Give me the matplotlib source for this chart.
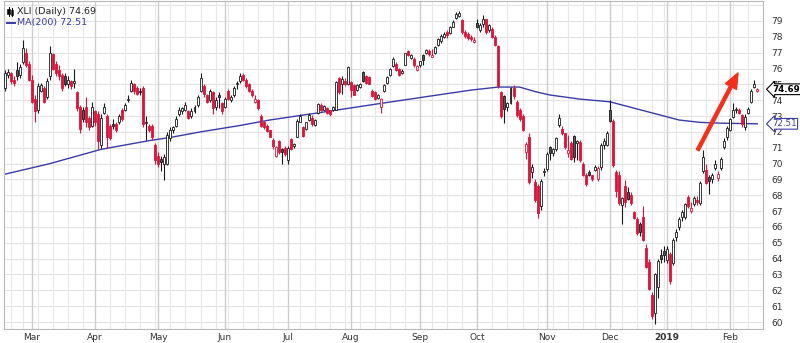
import numpy as np
import pandas as pd
import matplotlib
matplotlib.use("Agg")
import matplotlib.pyplot as plt
import matplotlib.transforms as mtransforms
from matplotlib.patches import Rectangle
from matplotlib.lines import Line2D

# ---- trading calendar -------------------------------------------------------
holidays = ["2018-02-19", "2018-03-30", "2018-05-28", "2018-07-04", "2018-09-03",
            "2018-11-22", "2018-12-05", "2018-12-25", "2019-01-01", "2019-01-21"]
dates = pd.bdate_range("2018-02-15", "2019-02-14", freq="C", holidays=holidays)

# ---- XLI daily prices -------------------------------------------------------
opens = [
    74.8, 75.6, 75.7, 75.3, 75.9, 75.6, 76.4, 77.0, 76.3, 75.3,
    74.1, 73.4, 74.6, 74.8, 74.2, 75.5, 76.9, 76.3, 75.9, 75.6,
    75.5, 75.0, 75.2, 75.1, 74.5, 73.6, 73.4, 73.6, 72.9, 72.4,
    73.3, 73.1, 71.2, 73.2, 73.0, 72.4, 72.5, 72.5, 72.6, 73.4,
    73.4, 74.0, 74.6, 75.0, 74.8, 74.6, 74.8, 72.55, 72.4, 72.4,
    71.2, 70.5, 70.3, 70.0, 70.0, 71.6, 72.1, 72.4, 73.1, 73.3,
    73.4, 73.3, 73.0, 73.3, 73.7, 74.6, 74.9, 74.3, 74.0, 74.5,
    73.6, 74.3, 73.8, 73.6, 74.6, 74.0, 74.3, 75.0, 75.2, 75.6,
    75.3, 75.0, 74.6, 73.9, 74.0, 73.0, 72.6, 72.4, 72.1, 71.5,
    70.5, 71.45, 70.9, 71.0, 70.2, 71.55, 71.1, 71.7, 72.65, 72.3,
    72.2, 72.75, 72.9, 72.45, 73.2, 73.7, 73.4, 73.5, 73.35, 73.4,
    73.4, 75.38, 75.0, 75.2, 75.0, 75.15, 74.95, 74.65, 74.85, 75.8,
    75.55, 75.45, 74.6, 74.5, 74.15, 73.6, 74.55, 75.1, 75.6, 76.15,
    76.3, 76.0, 75.7, 76.25, 77.1, 76.65, 76.6, 75.9, 76.2, 76.85,
    77.0, 77.1, 76.75, 76.95, 77.5, 77.75, 78.0, 78.3, 78.25, 78.65,
    79.2, 79.3, 79.05, 78.3, 78.2, 78.0, 77.65, 78.9, 78.4, 78.8,
    79.1, 78.4, 78.5, 78.0, 77.4, 74.5, 74.25, 73.55, 73.85, 74.8,
    73.9, 73.4, 73.0, 70.75, 71.7, 69.45, 68.85, 68.6, 67.3, 69.45,
    69.65, 71.05, 70.65, 70.9, 72.45, 72.2, 71.9, 70.65, 71.3, 71.75,
    71.3, 71.35, 70.0, 69.3, 69.45, 69.25, 69.6, 69.0, 69.8, 71.2,
    71.2, 73.4, 72.7, 69.45, 69.3, 67.4, 68.6, 68.2, 68.0, 66.95,
    66.5, 66.2, 66.6, 64.7, 63.8, 61.7, 60.6, 62.2, 64.2, 64.5,
    63.9, 64.3, 63.7, 65.35, 66.0, 66.6, 66.65, 67.9, 67.0, 67.45,
    67.7, 67.5, 69.5, 69.6, 69.15, 69.0, 69.7, 69.1, 69.7, 71.05,
    71.7, 72.15, 72.95, 73.4, 73.4, 73.05, 72.3, 73.2, 73.9, 74.85,
    74.6,
]
highs = [
    75.9, 76.0, 75.8, 75.5, 76.4, 76.3, 77.8, 77.3, 76.5, 75.6,
    74.3, 75.1, 75.1, 74.9, 75.4, 77.4, 77.0, 76.5, 76.2, 75.7,
    75.7, 75.5, 75.3, 76.0, 74.6, 73.7, 73.6, 74.2, 73.0, 73.9,
    73.4, 73.3, 73.1, 73.8, 73.1, 72.5, 72.8, 72.6, 73.1, 73.5,
    73.8, 74.3, 75.3, 75.1, 74.9, 74.8, 74.9, 73.0, 72.5, 72.5,
    71.3, 70.7, 70.5, 70.6, 72.0, 72.3, 72.4, 73.0, 73.6, 73.6,
    73.9, 73.4, 73.5, 73.7, 74.3, 75.7, 75.0, 74.4, 74.7, 74.6,
    74.2, 74.5, 73.9, 74.2, 74.7, 74.3, 74.9, 75.2, 75.7, 75.7,
    75.4, 75.1, 74.7, 74.3, 74.1, 73.1, 72.7, 72.5, 72.15, 71.6,
    71.1, 71.5, 71.0, 71.1, 71.1, 71.6, 71.3, 72.8, 73.1, 72.4,
    72.65, 73.2, 73.06, 72.8, 73.85, 73.8, 73.7, 73.55, 73.4, 73.65,
    75.2, 75.45, 75.5, 75.4, 76.15, 75.2, 75.0, 75.0, 75.1, 75.85,
    75.6, 75.5, 74.7, 74.55, 74.4, 74.15, 75.0, 75.5, 76.05, 76.7,
    76.4, 76.05, 75.95, 77.0, 77.15, 76.9, 76.7, 76.25, 76.5, 76.9,
    77.25, 77.2, 77.2, 77.4, 77.95, 78.15, 78.3, 78.4, 78.7, 79.06,
    79.55, 79.6, 79.1, 78.4, 78.3, 78.1, 78.0, 79.1, 78.85, 79.4,
    79.15, 78.8, 78.6, 78.1, 77.5, 74.6, 74.3, 73.9, 74.85, 74.95,
    74.0, 73.5, 73.1, 71.35, 71.9, 70.0, 69.0, 68.7, 69.0, 69.7,
    70.7, 71.1, 71.0, 71.7, 73.1, 72.4, 71.95, 71.8, 71.4, 71.8,
    71.5, 71.5, 70.1, 69.4, 69.6, 69.3, 69.9, 69.85, 71.3, 71.6,
    72.05, 74.0, 72.8, 69.6, 69.5, 67.9, 68.96, 68.5, 68.2, 67.0,
    66.6, 66.3, 67.3, 64.9, 64.0, 61.9, 63.1, 64.0, 64.6, 64.8,
    64.8, 64.4, 65.3, 65.9, 66.6, 67.1, 67.5, 68.0, 67.6, 67.95,
    67.95, 68.9, 70.85, 70.0, 69.3, 69.4, 70.2, 69.5, 70.4, 71.6,
    72.4, 72.9, 73.8, 73.55, 73.5, 73.1, 73.1, 73.6, 74.7, 75.27,
    74.8,
]
lows = [
    74.6, 75.4, 75.0, 74.9, 75.3, 75.4, 76.3, 76.1, 75.2, 73.8,
    72.6, 73.2, 74.5, 73.8, 74.1, 75.3, 75.9, 75.5, 75.3, 74.6,
    74.9, 74.8, 74.7, 74.8, 73.3, 71.9, 72.6, 72.3, 72.1, 72.3,
    72.4, 70.9, 71.0, 73.1, 71.0, 71.5, 72.2, 72.0, 72.5, 72.7,
    73.3, 73.9, 74.5, 74.4, 74.3, 74.3, 72.3, 71.5, 72.0, 71.5,
    70.0, 69.8, 69.5, 68.95, 69.9, 71.4, 71.9, 72.3, 73.0, 73.1,
    73.3, 72.8, 72.9, 73.2, 73.6, 74.5, 74.2, 73.8, 73.9, 73.1,
    73.4, 73.5, 73.1, 73.5, 74.0, 73.9, 74.2, 74.7, 75.1, 75.2,
    74.8, 74.5, 74.2, 73.8, 73.4, 72.3, 72.2, 72.0, 71.65, 70.95,
    70.4, 70.6, 70.0, 70.5, 70.0, 70.85, 71.0, 71.65, 72.6, 71.65,
    72.1, 72.7, 72.4, 72.4, 73.1, 73.3, 73.35, 73.1, 73.0, 73.3,
    73.35, 74.4, 74.4, 74.9, 74.95, 74.2, 74.3, 74.6, 74.8, 75.15,
    75.05, 75.0, 74.2, 74.0, 74.05, 73.17, 74.5, 75.05, 75.55, 76.1,
    75.85, 75.55, 75.65, 76.2, 76.8, 76.6, 76.1, 75.85, 76.1, 76.2,
    76.9, 76.8, 76.7, 76.9, 77.4, 77.6, 77.9, 77.95, 78.2, 78.6,
    79.1, 79.25, 78.2, 77.95, 77.8, 77.75, 77.6, 78.55, 78.3, 78.6,
    78.2, 78.3, 77.9, 77.4, 74.8, 72.9, 72.55, 73.3, 73.75, 74.1,
    72.95, 72.7, 72.05, 70.3, 68.7, 69.1, 67.6, 66.55, 67.1, 69.2,
    69.5, 70.2, 70.5, 70.8, 72.3, 71.8, 70.9, 70.4, 70.2, 70.1,
    70.2, 70.1, 69.2, 68.6, 69.2, 68.9, 69.5, 68.9, 69.6, 70.9,
    71.1, 72.6, 69.8, 67.9, 67.4, 66.2, 67.27, 67.7, 67.4, 66.5,
    65.5, 65.45, 65.1, 63.4, 62.0, 60.2, 59.9, 61.5, 63.7, 63.8,
    63.7, 62.4, 63.6, 65.1, 65.8, 66.4, 66.5, 67.2, 66.9, 67.35,
    67.4, 67.4, 69.4, 68.7, 68.1, 68.8, 69.6, 68.9, 69.6, 70.9,
    71.5, 72.05, 72.9, 73.2, 73.15, 72.3, 72.1, 73.1, 73.85, 74.75,
    74.5,
]
closes = [
    75.7, 75.8, 75.2, 75.1, 75.5, 76.1, 77.3, 76.2, 75.3, 73.9,
    73.3, 74.9, 74.95, 73.9, 75.2, 77.0, 76.0, 75.7, 75.5, 74.8,
    75.0, 75.3, 74.9, 75.2, 73.5, 72.2, 72.8, 72.6, 72.3, 73.6,
    72.6, 71.4, 72.9, 73.6, 71.7, 71.6, 72.4, 72.1, 73.0, 72.8,
    73.7, 74.1, 75.1, 74.6, 74.4, 74.5, 72.5, 72.65, 72.1, 71.7,
    70.2, 70.0, 70.1, 70.4, 71.8, 72.1, 72.3, 72.8, 73.4, 73.5,
    73.7, 72.9, 73.3, 73.6, 74.2, 75.4, 74.4, 73.9, 74.6, 73.5,
    74.0, 74.2, 73.3, 74.1, 74.05, 74.2, 74.8, 75.1, 75.5, 75.3,
    74.9, 74.6, 74.3, 74.1, 73.5, 72.4, 72.3, 72.05, 71.7, 71.1,
    71.05, 70.7, 70.75, 70.6, 71.0, 70.9, 71.25, 72.7, 73.0, 71.75,
    72.6, 73.05, 72.5, 72.75, 73.75, 73.4, 73.65, 73.2, 73.1, 73.6,
    75.15, 74.5, 75.35, 75.0, 76.1, 74.65, 74.35, 74.95, 75.05, 75.2,
    75.1, 75.05, 74.25, 74.05, 74.3, 74.1, 74.95, 75.45, 76.0, 76.6,
    75.9, 75.6, 75.85, 76.95, 76.85, 76.88, 76.2, 76.15, 76.45, 76.55,
    77.15, 76.9, 76.85, 77.35, 77.85, 78.05, 78.2, 78.1, 78.6, 78.95,
    79.45, 79.5, 78.3, 78.05, 77.9, 77.85, 77.8, 78.6, 78.75, 79.1,
    78.3, 78.75, 78.0, 77.5, 74.9, 73.0, 73.45, 73.8, 74.8, 74.25,
    73.05, 72.8, 72.15, 71.25, 68.85, 69.8, 67.7, 66.9, 68.9, 69.5,
    70.6, 70.65, 70.95, 71.6, 72.85, 71.9, 71.05, 70.85, 70.3, 70.4,
    71.45, 70.2, 69.3, 68.7, 69.3, 69.0, 69.8, 69.7, 71.2, 71.45,
    71.95, 72.7, 69.9, 68.3, 67.5, 67.8, 67.6, 67.75, 67.5, 66.55,
    65.6, 65.7, 65.2, 63.5, 62.1, 60.35, 63.0, 63.85, 63.95, 64.2,
    64.6, 62.6, 65.15, 65.7, 66.5, 66.95, 67.45, 67.3, 67.2, 67.85,
    67.55, 68.8, 70.4, 68.8, 68.9, 69.3, 70.0, 69.35, 70.3, 71.45,
    72.25, 72.8, 73.35, 73.45, 73.2, 72.5, 72.95, 73.45, 74.6, 75.0,
    74.69,
]

# 200-day moving average, sampled along the series
ma_idx = [0, 15, 32, 48, 55, 65, 78, 88, 103, 125, 141, 155, 164, 171,
          176, 181, 191, 201, 214, 224, 231, 238, 250]
ma_val = [69.33, 70.0, 70.9, 71.45, 71.65, 72.0, 72.4, 72.75, 73.17, 73.8,
          74.25, 74.64, 74.83, 74.83, 74.55, 74.33, 74.07, 73.9, 73.25,
          72.75, 72.6, 72.55, 72.51]

price_ticks = list(range(60, 80))

# ---- figure -----------------------------------------------------------------
W, H = 800, 343
fig = plt.figure(figsize=(W / 100, H / 100), dpi=100, facecolor="white")
ax = fig.add_axes([4 / W, 1 - 329 / H, 759 / W, 328 / H])
ax.set_facecolor("white")

o = np.array(opens); h = np.array(highs); l = np.array(lows); c = np.array(closes)
n = len(c)
dates = dates[:n]
x = np.arange(n)

ax.set_xlim(-0.3, 251.9)
ax.set_ylim(59.56, 80.26)

# grid: price levels, weekly lines, month lines
for lvl in range(60, 81):
    ax.axhline(lvl, color="#e3e3e3", lw=0.8, zorder=0)
month_starts = [i for i in range(1, n) if dates[i].month != dates[i - 1].month]
week_starts = [i for i in range(1, n) if dates[i].weekday() < dates[i - 1].weekday()]
for i in week_starts:
    if i not in month_starts:
        ax.axvline(i, color="#e8e8e8", lw=0.8, zorder=0)
for i in month_starts:
    ax.axvline(i, color="#cdcdcd", lw=1.0, zorder=0)

# moving average
ma_color = "#3b3ba8"
ax.plot(ma_idx, ma_val, color=ma_color, lw=1.0, zorder=1.5)

# candlesticks
red = "#dc143c"
prev = np.r_[c[0] - 0.01, c[:-1]]
up_day = c >= prev
hollow = c > o
edge = [("#1a1a1a" if u else red) for u in up_day]
face = []
for u, hol in zip(up_day, hollow):
    if hol:
        face.append("white")
    else:
        face.append("#575757" if u else red)
lo_w = np.minimum(l, np.minimum(o, c))
hi_w = np.maximum(h, np.maximum(o, c))
ax.vlines(x, lo_w, hi_w, colors=edge, lw=0.8, zorder=2)
body_lo = np.minimum(o, c)
body_h = np.maximum(np.abs(c - o), 0.06)
ax.bar(x, body_h, bottom=body_lo, width=0.66, color=face, edgecolor=edge,
       linewidth=0.6, zorder=3)

# trend arrow
ax.annotate("", xy=(243.6, 75.72), xytext=(230.2, 70.85),
            arrowprops=dict(facecolor="#f4301c", edgecolor="#f4301c",
                            width=2.2, headwidth=9, headlength=11, shrink=0),
            zorder=6)

# axes styling
for s in ax.spines.values():
    s.set_color("#b8b8b8")
    s.set_linewidth(0.8)
ax.yaxis.tick_right()
ax.set_yticks(price_ticks)
ax.set_yticklabels([str(v) for v in price_ticks])
ax.tick_params(axis="y", length=0, pad=6, labelsize=6.5, labelcolor="#333333")
ax.set_xticks(month_starts)
xlabels = ["2019" if dates[i].month == 1 else dates[i].strftime("%b") for i in month_starts]
ax.set_xticklabels(xlabels)
ax.tick_params(axis="x", length=0, pad=3, labelsize=6.5, labelcolor="#333333")
for lab in ax.get_xticklabels():
    if lab.get_text() == "2019":
        lab.set_fontweight("bold")

# last-value tags on the price scale
trans = mtransforms.blended_transform_factory(ax.transAxes, ax.transData)
ax.text(1.012, c[-1], f"{c[-1]:.2f}", transform=trans, ha="left", va="center",
        fontsize=6.2, fontweight="bold", color="black", zorder=10, clip_on=False,
        bbox=dict(boxstyle="larrow,pad=0.1", fc="white", ec="black", lw=0.8))
ax.text(1.012, ma_val[-1], f"{ma_val[-1]:.2f}", transform=trans, ha="left",
        va="center", fontsize=6.2, color=ma_color, zorder=10, clip_on=False,
        bbox=dict(boxstyle="larrow,pad=0.1", fc="white", ec=ma_color, lw=0.8))

# legend in the upper left
def fx(px):
    return px / W

def fy(py):
    return 1 - py / H

fig.add_artist(Line2D([fx(8.5), fx(8.5)], [fy(7), fy(16)], color="black", lw=0.7))
fig.add_artist(Rectangle((fx(7.3), fy(14)), fx(2.4), 5 / H, fc="black", ec="black", lw=0.4))
fig.add_artist(Line2D([fx(12), fx(12)], [fy(8), fy(16)], color="black", lw=0.7))
fig.add_artist(Rectangle((fx(10.8), fy(15)), fx(2.4), 5 / H, fc="white", ec="black", lw=0.5))
fig.text(fx(17), fy(12), f"XLI (Daily) {c[-1]:.2f}", fontsize=6.8, color="#222222",
         ha="left", va="center")
fig.add_artist(Line2D([fx(7), fx(15)], [fy(23), fy(23)], color=ma_color, lw=1.4))
fig.text(fx(17), fy(23), f"MA(200) {ma_val[-1]:.2f}", fontsize=6.8, color=ma_color,
         ha="left", va="center")

fig.savefig("out.png", dpi=100, facecolor="white")
